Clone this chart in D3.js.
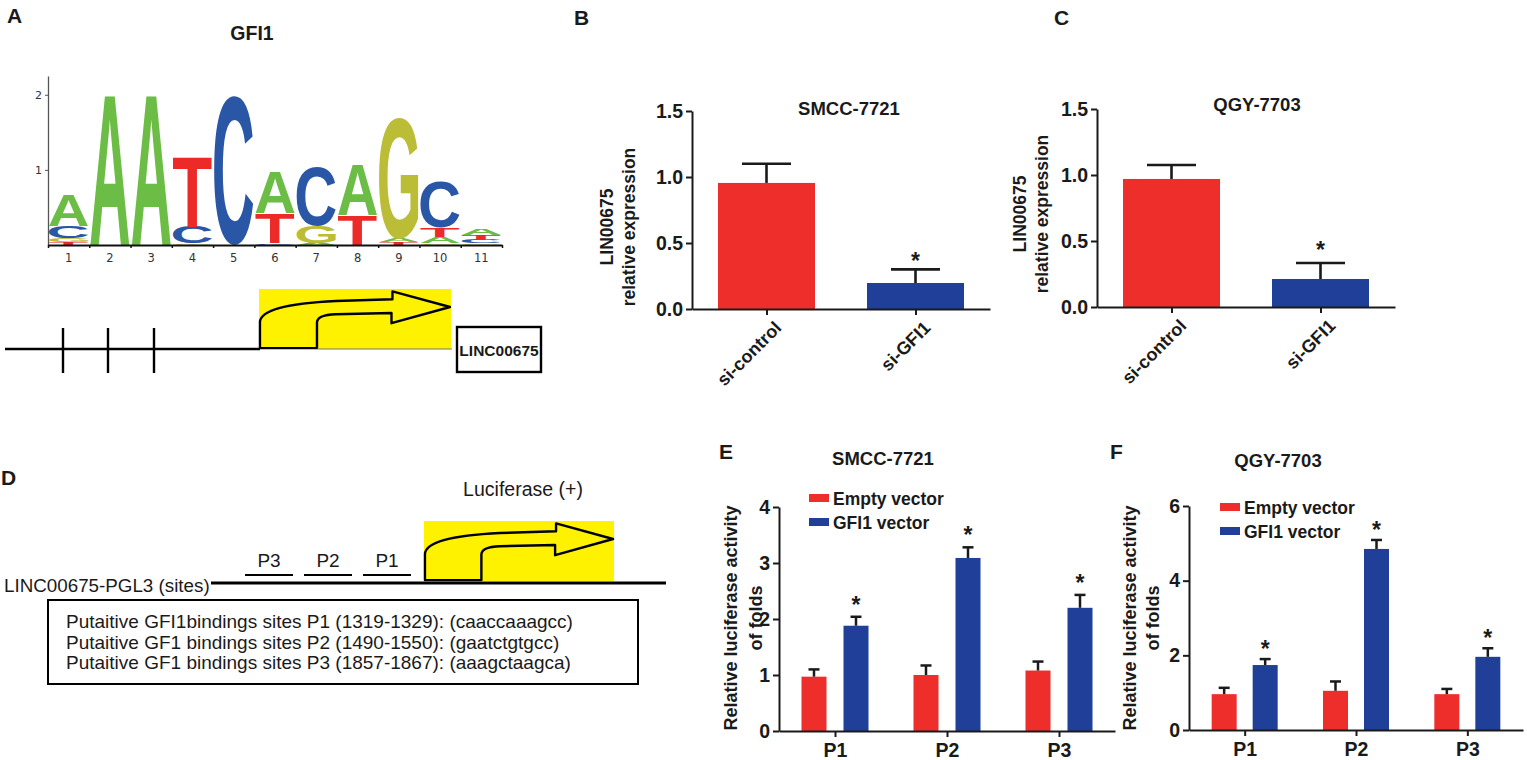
<!DOCTYPE html>
<html>
<head>
<meta charset="utf-8">
<script src="https://cdn.jsdelivr.net/npm/d3@7"></script>
<style>
body { margin: 0; background: #fff; }
svg { display: block; font-family: "Liberation Sans", Arial, Helvetica, sans-serif; }
</style>
</head>
<body>
<svg id="fig" width="1527" height="760"></svg>
<script>
// ---------- data ----------
// A: sequence logo, information (bits) per letter at each position
var logoPositions = [1, 2, 3, 4, 5, 6, 7, 8, 9, 10, 11];
var bitsA = [0.41, 2.00, 2.00, 0.00, 0.00, 0.55, 0.03, 0.67, 0.05, 0.09, 0.09];
var bitsC = [0.16, 0.00, 0.00, 0.22, 1.99, 0.02, 0.78, 0.00, 0.00, 0.62, 0.05];
var bitsG = [0.05, 0.00, 0.00, 0.02, 0.00, 0.00, 0.23, 0.00, 1.61, 0.02, 0.02];
var bitsT = [0.04, 0.00, 0.00, 0.94, 0.00, 0.40, 0.00, 0.40, 0.04, 0.12, 0.06];
var logoTicks = [1, 2];

// B, C: LIN00675 relative expression
var expGroups = ["si-control", "si-GFI1"];
var smccExp = [0.955, 0.197];
var smccExpSem = [0.145, 0.103];
var qgyExp = [0.97, 0.212];
var qgyExpSem = [0.106, 0.121];
var expTicks = [0, 0.5, 1.0, 1.5];

// D: binding sites
var siteNames = ["P3", "P2", "P1"];
var siteLines = [
  "Putaitive GFI1bindings sites P1 (1319-1329): (caaccaaagcc)",
  "Putaitive GF1 bindings sites P2 (1490-1550): (gaatctgtgcc)",
  "Putaitive GF1 bindings sites P3 (1857-1867): (aaagctaagca)"
];

// E, F: relative luciferase activity
var lucSites = ["P1", "P2", "P3"];
var seriesNames = ["Empty vector", "GFI1 vector"];
var smccEmpty = [0.97, 1.00, 1.08];
var smccEmptySem = [0.13, 0.17, 0.16];
var smccGfi = [1.88, 3.09, 2.20];
var smccGfiSem = [0.16, 0.19, 0.23];
var qgyEmpty = [0.96, 1.05, 0.96];
var qgyEmptySem = [0.17, 0.25, 0.14];
var qgyGfi = [1.74, 4.85, 1.96];
var qgyGfiSem = [0.16, 0.24, 0.23];
var smccLucTicks = [0, 1, 2, 3, 4];
var qgyLucTicks = [0, 2, 4, 6];

// ---------- setup ----------
var svg = d3.select("#fig");
var INK = "#1a1a1a";
var RED = "#ee2e2a";
var BLUE = "#1f3f98";
var letterColor = {A: "#6cbd45", C: "#2a56a6", G: "#bcbd36", T: "#ec2a27"};

function txt(s, x, y, size, weight, anchor) {
  return svg.append("text")
    .attr("x", x).attr("y", y)
    .attr("font-size", size)
    .attr("font-weight", weight || "normal")
    .attr("text-anchor", anchor || "start")
    .attr("fill", INK)
    .text(s);
}

function vtxt(s, x, y, size, weight) {
  return svg.append("text")
    .attr("transform", "translate(" + x + "," + y + ") rotate(-90)")
    .attr("font-size", size)
    .attr("font-weight", weight || "bold")
    .attr("text-anchor", "middle")
    .attr("fill", INK)
    .text(s);
}

// panel letters
[["A", 7, 23], ["B", 574, 25], ["C", 1054, 25], ["D", 1, 485], ["E", 719, 459], ["F", 1110, 459]]
  .forEach(function(p) { txt(p[0], p[1], p[2], 21, "bold"); });

// bent arrow in a yellow box, shape given in box-relative units
function bentArrow(x, y, w, h) {
  svg.append("rect").attr("x", x).attr("y", y).attr("width", w).attr("height", h).attr("fill", "#fff200");
  var X = function(f) { return x + f * w; }, Y = function(f) { return y + f * h; };
  var p = d3.path();
  p.moveTo(X(0.005), Y(0.985));
  p.lineTo(X(0.302), Y(0.985));
  p.lineTo(X(0.302), Y(0.56));
  p.quadraticCurveTo(X(0.302), Y(0.43), X(0.40), Y(0.42));
  p.lineTo(X(0.69), Y(0.40));
  p.lineTo(X(0.69), Y(0.57));
  p.lineTo(X(0.995), Y(0.30));
  p.lineTo(X(0.695), Y(0.04));
  p.lineTo(X(0.695), Y(0.17));
  p.lineTo(X(0.40), Y(0.20));
  p.quadraticCurveTo(X(0.01), Y(0.26), X(0.005), Y(0.55));
  p.closePath();
  svg.append("path").attr("d", p.toString()).attr("fill", "none")
    .attr("stroke", "#000").attr("stroke-width", 2.4).attr("stroke-linejoin", "round");
}

// ---------- A: sequence logo ----------
(function() {
  txt("GFI1", 252, 40, 19.5, "bold", "middle");
  var x = d3.scaleLinear().domain([0.5, 11.5]).range([48, 502]);
  var y = d3.scaleLinear().domain([0, 2.25]).range([245, 76]);

  var ctx = document.createElement("canvas").getContext("2d");
  ctx.font = "bold 100px 'Liberation Sans'";
  var colW = x(1) - x(0) - 2;

  var g = svg.append("g");
  logoPositions.forEach(function(pos, i) {
    var stack = [
      {ch: "A", b: bitsA[i]}, {ch: "C", b: bitsC[i]},
      {ch: "G", b: bitsG[i]}, {ch: "T", b: bitsT[i]}
    ].filter(function(d) { return d.b > 0; })
     .sort(function(a, b) { return a.b - b.b; });
    var acc = 0;
    stack.forEach(function(d) {
      var yb = y(acc), yt = y(acc + d.b);
      acc += d.b;
      var m = ctx.measureText(d.ch);
      var gw = m.actualBoundingBoxLeft + m.actualBoundingBoxRight;
      var gh = m.actualBoundingBoxAscent + m.actualBoundingBoxDescent;
      var sx = colW / gw, sy = (yb - yt) / gh;
      var x0 = x(pos) - colW / 2;
      g.append("text")
        .attr("font-size", 100).attr("font-weight", "bold")
        .attr("fill", letterColor[d.ch])
        .attr("transform", "translate(" + (x0 + m.actualBoundingBoxLeft * sx) + "," +
              (yb - m.actualBoundingBoxDescent * sy) + ") scale(" + sx + "," + sy + ")")
        .text(d.ch);
    });
  });

  // y axis
  var ya = svg.append("g").attr("transform", "translate(48,0)")
    .call(d3.axisLeft(y).tickValues(logoTicks).tickFormat(d3.format("d")).tickSize(3).tickSizeOuter(0));
  ya.select(".domain").attr("stroke", "#555").attr("stroke-width", 1.3);
  ya.selectAll(".tick line").attr("stroke", "#555");
  ya.selectAll(".tick text").attr("font-family", "DejaVu Sans").attr("font-size", 11).attr("fill", "#333");

  // x axis with ticks at column boundaries
  var xa = svg.append("g").attr("transform", "translate(0,245)")
    .call(d3.axisBottom(x).tickValues(d3.range(0.5, 12, 1)).tickFormat("").tickSize(3).tickSizeOuter(0));
  xa.select(".domain").attr("stroke", "#111").attr("stroke-width", 2);
  xa.selectAll(".tick line").attr("stroke", "#111").attr("stroke-width", 1.5);
  svg.append("g").selectAll("text").data(logoPositions).enter().append("text")
    .attr("x", function(d) { return x(d); }).attr("y", 262)
    .attr("text-anchor", "middle").attr("font-family", "DejaVu Sans")
    .attr("font-size", 11.5).attr("fill", "#333")
    .text(function(d) { return d; });

  // gene diagram
  svg.append("line").attr("x1", 5).attr("x2", 260).attr("y1", 349).attr("y2", 349)
    .attr("stroke", "#000").attr("stroke-width", 2.4);
  [63, 108, 154].forEach(function(tx) {
    svg.append("line").attr("x1", tx).attr("x2", tx).attr("y1", 328).attr("y2", 373)
      .attr("stroke", "#000").attr("stroke-width", 2.4);
  });
  bentArrow(259, 289, 192, 60);
  svg.append("line").attr("x1", 317).attr("x2", 452).attr("y1", 349).attr("y2", 349)
    .attr("stroke", "#777").attr("stroke-width", 1);
  svg.append("rect").attr("x", 457).attr("y", 327).attr("width", 84).attr("height", 45)
    .attr("fill", "none").attr("stroke", "#000").attr("stroke-width", 2.4);
  txt("LINC00675", 499, 356, 15.5, "bold", "middle");
})();

// ---------- B, C: expression bars ----------
function expressionPanel(cfg) {
  var y = d3.scaleLinear().domain([0, 1.5]).range([cfg.y0, cfg.y1]);
  var x = d3.scalePoint().domain(expGroups).range([cfg.x0, cfg.x1]).padding(0.5);
  var bw = 97, capW = 49;
  var g = svg.append("g");

  g.selectAll("rect").data(cfg.values).enter().append("rect")
    .attr("x", function(d, i) { return x(expGroups[i]) - bw / 2; })
    .attr("y", function(d) { return y(d); })
    .attr("width", bw)
    .attr("height", function(d) { return y(0) - y(d); })
    .attr("fill", function(d, i) { return i === 0 ? RED : BLUE; });

  cfg.values.forEach(function(v, i) {
    var cx = x(expGroups[i]), top = y(v + cfg.sem[i]);
    g.append("line").attr("x1", cx).attr("x2", cx).attr("y1", y(v)).attr("y2", top)
      .attr("stroke", INK).attr("stroke-width", 2.6);
    g.append("line").attr("x1", cx - capW / 2).attr("x2", cx + capW / 2).attr("y1", top).attr("y2", top)
      .attr("stroke", INK).attr("stroke-width", 2.6);
    if (i === 1) {
      g.append("text").attr("x", cx).attr("y", top - cfg.starGap).attr("text-anchor", "middle")
        .attr("font-size", 23).attr("font-weight", "bold").attr("fill", INK).text("*");
    }
  });

  var ya = g.append("g").attr("transform", "translate(" + cfg.x0 + ",0)")
    .call(d3.axisLeft(y).tickValues(expTicks).tickFormat(d3.format(".1f")).tickSize(6).tickPadding(3).tickSizeOuter(0));
  var xa = g.append("g").attr("transform", "translate(0," + cfg.y0 + ")")
    .call(d3.axisBottom(x).tickSize(6).tickSizeOuter(0).tickFormat(""));
  [ya, xa].forEach(function(a) {
    a.select(".domain").attr("stroke", INK).attr("stroke-width", 2);
    a.selectAll(".tick line").attr("stroke", INK).attr("stroke-width", 2);
  });
  ya.selectAll(".tick text").attr("font-size", 19.5).attr("font-weight", "bold").attr("fill", INK);

  expGroups.forEach(function(name) {
    g.append("text")
      .attr("transform", "translate(" + (x(name) + 16) + "," + (cfg.y0 + 20) + ") rotate(-45)")
      .attr("text-anchor", "end").attr("font-size", 18).attr("font-weight", "bold").attr("fill", INK)
      .text(name);
  });

  txt(cfg.title, cfg.titleX, cfg.titleY, 18.5, "bold", "middle");
  vtxt("LIN00675", cfg.labX1, cfg.labY, 17.5);
  vtxt("relative expression", cfg.labX2, cfg.labY, 17.5);
}

expressionPanel({values: smccExp, sem: smccExpSem, x0: 692, x1: 990, y0: 309, y1: 111,
  title: "SMCC-7721", titleX: 849, titleY: 115, labX1: 613, labX2: 635, labY: 227, starGap: 0});
expressionPanel({values: qgyExp, sem: qgyExpSem, x0: 1097, x1: 1395, y0: 307, y1: 109,
  title: "QGY-7703", titleX: 1257, titleY: 111, labX1: 1026, labX2: 1048, labY: 214, starGap: 5});

// ---------- D: reporter construct ----------
(function() {
  txt("Luciferase (+)", 523, 496, 19.5, "normal", "middle");
  txt("LINC00675-PGL3 (sites)", 4, 592, 18.8, "normal", "start");
  svg.append("line").attr("x1", 211).attr("x2", 666).attr("y1", 583).attr("y2", 583)
    .attr("stroke", "#000").attr("stroke-width", 3);
  var sx = d3.scalePoint().domain(siteNames).range([269, 387]);
  siteNames.forEach(function(s) {
    svg.append("line").attr("x1", sx(s) - 24).attr("x2", sx(s) + 24).attr("y1", 575).attr("y2", 575)
      .attr("stroke", "#000").attr("stroke-width", 2);
    txt(s, sx(s), 567, 19, "normal", "middle");
  });
  bentArrow(424, 521, 190, 60);
  svg.append("rect").attr("x", 48).attr("y", 600).attr("width", 590).attr("height", 84)
    .attr("fill", "none").attr("stroke", "#000").attr("stroke-width", 2);
  siteLines.forEach(function(s, i) {
    txt(s, 66, 628 + i * 20.5, 19, "normal", "start");
  });
})();

// ---------- E, F: luciferase bars ----------
function luciferasePanel(cfg) {
  var y = d3.scaleLinear().domain([0, cfg.ymax]).range([cfg.y0, cfg.y1]);
  var x = d3.scalePoint().domain(lucSites).range([cfg.x0, cfg.x1]).padding(0.5);
  var bw = 25, capW = 11;
  var g = svg.append("g");
  var series = [
    {vals: cfg.empty, sem: cfg.emptySem, color: RED, dx: -cfg.off, star: false},
    {vals: cfg.gfi, sem: cfg.gfiSem, color: BLUE, dx: cfg.off, star: true}
  ];
  series.forEach(function(s) {
    g.append("g").selectAll("rect").data(s.vals).enter().append("rect")
      .attr("x", function(d, i) { return x(lucSites[i]) + s.dx - bw / 2; })
      .attr("y", function(d) { return y(d); })
      .attr("width", bw)
      .attr("height", function(d) { return y(0) - y(d); })
      .attr("fill", s.color);
    s.vals.forEach(function(v, i) {
      var cx = x(lucSites[i]) + s.dx, top = y(v + s.sem[i]);
      g.append("line").attr("x1", cx).attr("x2", cx).attr("y1", y(v)).attr("y2", top)
        .attr("stroke", INK).attr("stroke-width", 2.5);
      g.append("line").attr("x1", cx - capW / 2).attr("x2", cx + capW / 2).attr("y1", top).attr("y2", top)
        .attr("stroke", INK).attr("stroke-width", 2.5);
      if (s.star) {
        g.append("text").attr("x", cx).attr("y", top - cfg.starGap).attr("text-anchor", "middle")
          .attr("font-size", 23).attr("font-weight", "bold").attr("fill", INK).text("*");
      }
    });
  });

  var ya = g.append("g").attr("transform", "translate(" + cfg.x0 + ",0)")
    .call(d3.axisLeft(y).tickValues(cfg.ticks).tickFormat(d3.format("d")).tickSize(6).tickPadding(3).tickSizeOuter(0));
  var xa = g.append("g").attr("transform", "translate(0," + cfg.y0 + ")")
    .call(d3.axisBottom(x).tickSize(6).tickSizeOuter(0).tickPadding(6));
  [ya, xa].forEach(function(a) {
    a.select(".domain").attr("stroke", INK).attr("stroke-width", 2);
    a.selectAll(".tick line").attr("stroke", INK).attr("stroke-width", 2);
    a.selectAll(".tick text").attr("font-size", 19.5).attr("font-weight", "bold").attr("fill", INK);
  });

  // legend
  seriesNames.forEach(function(name, i) {
    var ly = cfg.legY + i * 24;
    g.append("rect").attr("x", cfg.legX).attr("y", ly - 4).attr("width", 20).attr("height", 8)
      .attr("fill", i === 0 ? RED : BLUE);
    g.append("text").attr("x", cfg.legX + 24).attr("y", ly + 7).attr("font-size", 17.5)
      .attr("font-weight", "bold").attr("fill", INK).text(name);
  });

  txt(cfg.title, cfg.titleX, cfg.titleY, 18.5, "bold", "middle");
  vtxt("Relative luciferase activity", cfg.labX1, 618, 18);
  vtxt("of folds", cfg.labX2, 618, 18);
}

luciferasePanel({empty: smccEmpty, emptySem: smccEmptySem, gfi: smccGfi, gfiSem: smccGfiSem,
  ymax: 4, ticks: smccLucTicks, x0: 779, x1: 1115, y0: 731, y1: 507, off: 21, starGap: 4,
  legX: 809, legY: 498, title: "SMCC-7721", titleX: 883, titleY: 465, labX1: 737, labX2: 762});
luciferasePanel({empty: qgyEmpty, emptySem: qgyEmptySem, gfi: qgyGfi, gfiSem: qgyGfiSem,
  ymax: 6, ticks: qgyLucTicks, x0: 1189, x1: 1523, y0: 730, y1: 506, off: 20.5, starGap: 2,
  legX: 1220, legY: 507, title: "QGY-7703", titleX: 1278, titleY: 467, labX1: 1136, labX2: 1159});
</script>
</body>
</html>
